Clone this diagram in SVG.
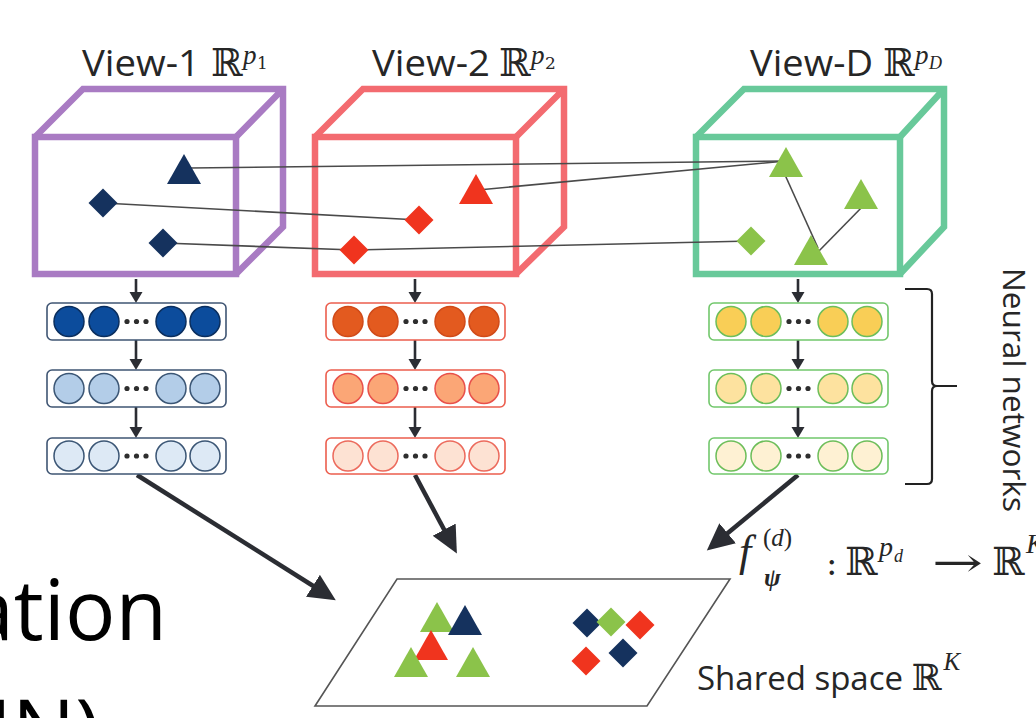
<svg xmlns="http://www.w3.org/2000/svg" width="1036" height="718" viewBox="0 0 1036 718">
<style>
.lbl{font-family:"Open Sans","Noto Sans",sans-serif;fill:#262626}
.m{font-family:"DejaVu Serif","Liberation Serif",serif;fill:#262626}
.mi{font-family:"Liberation Serif","DejaVu Serif",serif;font-style:italic;fill:#262626}
.cube{fill:none;stroke-width:6.5;stroke-linejoin:miter}
.link{stroke:#4a4a4a;stroke-width:1.6;fill:none}
.sm{stroke:#2b2d33;stroke-width:2.6;fill:none;marker-end:url(#ah)}
.big{stroke:#2b2d33;stroke-width:4.5;fill:none;marker-end:url(#ahb)}
.navy{fill:#15325e}.red{fill:#f0341e}.grn{fill:#8bc34a}
.dot{fill:#2e2e2e}
</style>
<defs>
<marker id="ah" markerUnits="userSpaceOnUse" markerWidth="14" markerHeight="14" refX="3" refY="6.5" orient="auto"><path d="M0,0 L11,6.5 L0,13 z" fill="#2b2d33"/></marker>
<marker id="ahb" markerUnits="userSpaceOnUse" markerWidth="32" markerHeight="28" refX="6" refY="13" orient="auto"><path d="M0,0 L27,13 L0,26 z" fill="#2b2d33"/></marker>
<path id="tri" d="M0,-15 L17,15 L-17,15 z"/>
<path id="dia" d="M0,-14.5 L14.5,0 L0,14.5 L-14.5,0 z"/>
</defs>

<g id="view1">
<rect class="cube" x="35" y="137" width="201" height="137" stroke="#a97bc3"/>
<path class="cube" d="M35,137 L83,89 L283,89 L283,227 L236,274 M236,137 L283,89" stroke="#a97bc3"/>
<text class="lbl" x="82" y="76" font-size="36" textLength="118" lengthAdjust="spacingAndGlyphs">View-1</text>
<text class="m" x="211" y="76" font-size="38">ℝ</text>
<text class="mi" x="243" y="64" font-size="27">p</text>
<text class="m" x="257" y="69" font-size="17">1</text>
</g>

<g id="view2">
<rect class="cube" x="315" y="137" width="201" height="137" stroke="#f36b70"/>
<path class="cube" d="M315,137 L363,89 L564,89 L564,227 L516,274 M516,137 L564,89" stroke="#f36b70"/>
<text class="lbl" x="372" y="76" font-size="36" textLength="118" lengthAdjust="spacingAndGlyphs">View-2</text>
<text class="m" x="499" y="76" font-size="38">ℝ</text>
<text class="mi" x="531" y="64" font-size="27">p</text>
<text class="m" x="545" y="69" font-size="17">2</text>
</g>

<g id="viewD">
<rect class="cube" x="696" y="137" width="204" height="137" stroke="#68c99a"/>
<path class="cube" d="M696,137 L744,89 L944,89 L944,227 L900,274 M900,137 L944,89" stroke="#68c99a"/>
<text class="lbl" x="750" y="76" font-size="36" textLength="123" lengthAdjust="spacingAndGlyphs">View-D</text>
<text class="m" x="883" y="76" font-size="38">ℝ</text>
<text class="mi" x="915" y="64" font-size="27">p</text>
<text class="mi" x="929" y="69" font-size="18">D</text>
</g>

<g id="connectors">
<line class="link" x1="190" y1="168" x2="786" y2="161"/>
<line class="link" x1="478" y1="190" x2="786" y2="161"/>
<line class="link" x1="103" y1="203" x2="419" y2="220"/>
<line class="link" x1="163" y1="243" x2="354" y2="250"/>
<line class="link" x1="354" y1="250" x2="751" y2="241"/>
<line class="link" x1="781" y1="166" x2="818" y2="248"/>
<line class="link" x1="866" y1="203" x2="815" y2="255"/>
<line class="sm" x1="136" y1="279" x2="136" y2="295"/>
<line class="sm" x1="136" y1="340" x2="136" y2="362"/>
<line class="sm" x1="136" y1="407" x2="136" y2="430"/>
<line class="sm" x1="415" y1="279" x2="415" y2="295"/>
<line class="sm" x1="415" y1="340" x2="415" y2="362"/>
<line class="sm" x1="415" y1="407" x2="415" y2="430"/>
<line class="sm" x1="798" y1="279" x2="798" y2="295"/>
<line class="sm" x1="798" y1="340" x2="798" y2="362"/>
<line class="sm" x1="798" y1="407" x2="798" y2="430"/>
<line class="big" x1="137" y1="475" x2="318" y2="589"/>
<line class="big" x1="415" y1="475" x2="447" y2="535"/>
<line class="big" x1="798" y1="475" x2="723" y2="537"/>
</g>

<g id="points">
<use href="#tri" class="navy" x="184" y="169"/>
<use href="#dia" class="navy" x="103" y="203"/>
<use href="#dia" class="navy" x="163" y="243"/>
<use href="#tri" class="red" x="476" y="189"/>
<use href="#dia" class="red" x="419" y="220"/>
<use href="#dia" class="red" x="354" y="250"/>
<use href="#tri" class="grn" x="786" y="162"/>
<use href="#tri" class="grn" x="861" y="194"/>
<use href="#tri" class="grn" x="811" y="250"/>
<use href="#dia" class="grn" x="751" y="241"/>
</g>

<g id="nn1">
<rect x="47" y="303" width="179" height="37" rx="5" fill="#fff" stroke="#3f5573" stroke-width="1.6"/>
<g fill="#0c4c9c" stroke="#0a2e5e" stroke-width="1.5"><circle cx="69" cy="321.5" r="15"/><circle cx="104" cy="321.5" r="15"/><circle cx="171" cy="321.5" r="15"/><circle cx="205" cy="321.5" r="15"/></g>
<g class="dot"><circle cx="127" cy="321.5" r="2.6"/><circle cx="136.5" cy="321.5" r="2.6"/><circle cx="146" cy="321.5" r="2.6"/></g>
<rect x="47" y="370" width="179" height="37" rx="5" fill="#fff" stroke="#3f5573" stroke-width="1.6"/>
<g fill="#b3cde8" stroke="#3b5675" stroke-width="1.5"><circle cx="69" cy="388.5" r="15"/><circle cx="104" cy="388.5" r="15"/><circle cx="171" cy="388.5" r="15"/><circle cx="205" cy="388.5" r="15"/></g>
<g class="dot"><circle cx="127" cy="388.5" r="2.6"/><circle cx="136.5" cy="388.5" r="2.6"/><circle cx="146" cy="388.5" r="2.6"/></g>
<rect x="47" y="438" width="179" height="36" rx="5" fill="#fff" stroke="#3f5573" stroke-width="1.6"/>
<g fill="#dde9f5" stroke="#3b5675" stroke-width="1.5"><circle cx="69" cy="456" r="15"/><circle cx="104" cy="456" r="15"/><circle cx="171" cy="456" r="15"/><circle cx="205" cy="456" r="15"/></g>
<g class="dot"><circle cx="127" cy="456" r="2.6"/><circle cx="136.5" cy="456" r="2.6"/><circle cx="146" cy="456" r="2.6"/></g>
</g>

<g id="nn2">
<rect x="326" y="303" width="179" height="37" rx="5" fill="#fff" stroke="#ec5e4e" stroke-width="1.6"/>
<g fill="#e35a1f" stroke="#d04a18" stroke-width="1.5"><circle cx="348" cy="321.5" r="15"/><circle cx="383" cy="321.5" r="15"/><circle cx="450" cy="321.5" r="15"/><circle cx="484" cy="321.5" r="15"/></g>
<g class="dot"><circle cx="406" cy="321.5" r="2.6"/><circle cx="415.5" cy="321.5" r="2.6"/><circle cx="425" cy="321.5" r="2.6"/></g>
<rect x="326" y="370" width="179" height="37" rx="5" fill="#fff" stroke="#ec5e4e" stroke-width="1.6"/>
<g fill="#fba676" stroke="#e8504a" stroke-width="1.5"><circle cx="348" cy="388.5" r="15"/><circle cx="383" cy="388.5" r="15"/><circle cx="450" cy="388.5" r="15"/><circle cx="484" cy="388.5" r="15"/></g>
<g class="dot"><circle cx="406" cy="388.5" r="2.6"/><circle cx="415.5" cy="388.5" r="2.6"/><circle cx="425" cy="388.5" r="2.6"/></g>
<rect x="326" y="438" width="179" height="36" rx="5" fill="#fff" stroke="#ec5e4e" stroke-width="1.6"/>
<g fill="#fde2d3" stroke="#ec6a5c" stroke-width="1.5"><circle cx="348" cy="456" r="15"/><circle cx="383" cy="456" r="15"/><circle cx="450" cy="456" r="15"/><circle cx="484" cy="456" r="15"/></g>
<g class="dot"><circle cx="406" cy="456" r="2.6"/><circle cx="415.5" cy="456" r="2.6"/><circle cx="425" cy="456" r="2.6"/></g>
</g>

<g id="nnD">
<rect x="709" y="303" width="179" height="37" rx="5" fill="#fff" stroke="#72c76c" stroke-width="1.6"/>
<g fill="#f9ce56" stroke="#6dbe5a" stroke-width="1.5"><circle cx="731" cy="321.5" r="15"/><circle cx="766" cy="321.5" r="15"/><circle cx="833" cy="321.5" r="15"/><circle cx="867" cy="321.5" r="15"/></g>
<g class="dot"><circle cx="789" cy="321.5" r="2.6"/><circle cx="798.5" cy="321.5" r="2.6"/><circle cx="808" cy="321.5" r="2.6"/></g>
<rect x="709" y="370" width="179" height="37" rx="5" fill="#fff" stroke="#72c76c" stroke-width="1.6"/>
<g fill="#fde29f" stroke="#6dbe5a" stroke-width="1.5"><circle cx="731" cy="388.5" r="15"/><circle cx="766" cy="388.5" r="15"/><circle cx="833" cy="388.5" r="15"/><circle cx="867" cy="388.5" r="15"/></g>
<g class="dot"><circle cx="789" cy="388.5" r="2.6"/><circle cx="798.5" cy="388.5" r="2.6"/><circle cx="808" cy="388.5" r="2.6"/></g>
<rect x="709" y="438" width="179" height="36" rx="5" fill="#fff" stroke="#72c76c" stroke-width="1.6"/>
<g fill="#fef1d3" stroke="#6dbe5a" stroke-width="1.5"><circle cx="731" cy="456" r="15"/><circle cx="766" cy="456" r="15"/><circle cx="833" cy="456" r="15"/><circle cx="867" cy="456" r="15"/></g>
<g class="dot"><circle cx="789" cy="456" r="2.6"/><circle cx="798.5" cy="456" r="2.6"/><circle cx="808" cy="456" r="2.6"/></g>
</g>

<g id="brace">
<path d="M905,289 L927,289 Q932,289 932,294 L932,381 Q932,386 937,386 L957,386 M937,386 Q932,386 932,391 L932,479 Q932,484 927,484 L905,484" fill="none" stroke="#222" stroke-width="2.2"/>
<text class="lbl" transform="translate(1003,268) rotate(90)" font-size="31" textLength="244" lengthAdjust="spacingAndGlyphs">Neural networks</text>
</g>

<g id="mapping">
<text class="mi" x="739" y="566" font-size="44">f</text>
<text class="mi" x="763" y="546" font-size="25"><tspan font-style="normal">(</tspan>d<tspan font-style="normal">)</tspan></text>
<text class="mi" x="764" y="586" font-size="25" font-weight="bold">ψ</text>
<text class="m" x="826" y="575" font-size="34">:</text>
<text class="m" x="845" y="575" font-size="39">ℝ</text>
<text class="mi" x="879" y="556" font-size="28">p</text>
<text class="mi" x="894" y="562" font-size="18">d</text>
<text class="m" x="932" y="576" font-size="40" textLength="51" lengthAdjust="spacingAndGlyphs">→</text>
<text class="m" x="992" y="575" font-size="39">ℝ</text>
<text class="mi" x="1026" y="553" font-size="28">K</text>
</g>

<g id="shared">
<polygon points="397,579 730,579 647,706 315,706" fill="#fff" stroke="#555" stroke-width="1.6"/>
<use href="#tri" class="grn" x="437" y="617"/>
<use href="#tri" class="navy" x="465" y="620"/>
<use href="#tri" class="red" x="431" y="645"/>
<use href="#tri" class="grn" x="411" y="662"/>
<use href="#tri" class="grn" x="473" y="662"/>
<use href="#dia" class="navy" x="587" y="623"/>
<use href="#dia" class="grn" x="611" y="622"/>
<use href="#dia" class="red" x="640" y="625"/>
<use href="#dia" class="red" x="586" y="661"/>
<use href="#dia" class="navy" x="623" y="653"/>
<text class="lbl" x="697" y="690" font-size="33">Shared space <tspan class="m" font-size="36">ℝ</tspan><tspan class="mi" font-size="25" dx="2" dy="-20">K</tspan></text>
</g>

<g id="background-text">
<text x="167" y="640" font-family="'Open Sans','Noto Sans',sans-serif" font-size="84" fill="#000" text-anchor="end">ation</text>
<text x="100" y="760" font-family="'Open Sans','Noto Sans',sans-serif" font-size="84" fill="#000" text-anchor="end">NN)</text>
</g>
</svg>
